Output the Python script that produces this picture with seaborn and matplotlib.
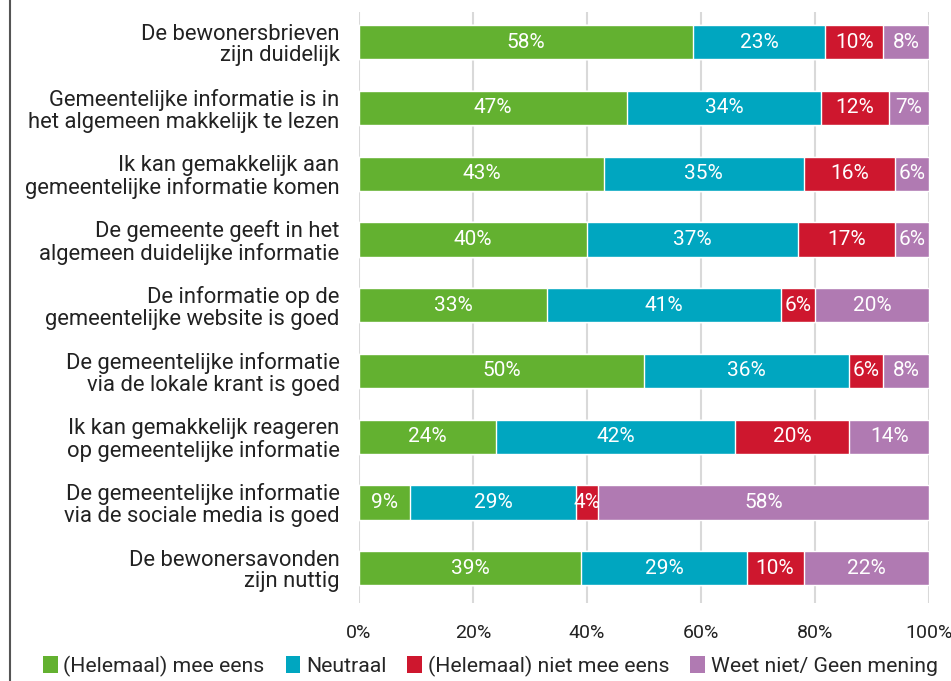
import numpy as np
import pandas as pd
import matplotlib
matplotlib.use("Agg")
import matplotlib.pyplot as plt
import seaborn as sns
from matplotlib.patches import Patch
from matplotlib.lines import Line2D

categories = [
    "De bewonersbrieven\nzijn duidelijk",
    "Gemeentelijke informatie is in\nhet algemeen makkelijk te lezen",
    "Ik kan gemakkelijk aan\ngemeentelijke informatie komen",
    "De gemeente geeft in het\nalgemeen duidelijke informatie",
    "De informatie op de\ngemeentelijke website is goed",
    "De gemeentelijke informatie\nvia de lokale krant is goed",
    "Ik kan gemakkelijk reageren\nop gemeentelijke informatie",
    "De gemeentelijke informatie\nvia de sociale media is goed",
    "De bewonersavonden\nzijn nuttig",
]
eens = [58, 47, 43, 40, 33, 50, 24, 9, 39]
neutraal = [23, 34, 35, 37, 41, 36, 42, 29, 29]
oneens = [10, 12, 16, 17, 6, 6, 20, 4, 10]
weet_niet = [8, 7, 6, 6, 20, 8, 14, 58, 22]
series_names = ["(Helemaal) mee eens", "Neutraal", "(Helemaal) niet mee eens", "Weet niet/ Geen mening"]
colors = ["#63b130", "#00a6c0", "#ce172e", "#b07ab2"]

sns.set_style("white")
plt.rcParams["font.family"] = ["Roboto", "DejaVu Sans"]

vals = np.array([eens, neutraal, oneens, weet_niet], dtype=float).T
pct = vals / vals.sum(axis=1, keepdims=True) * 100
cum = np.cumsum(pct, axis=1)

fig = plt.figure(figsize=(9.51, 6.81), dpi=100)
ax = fig.add_axes([0.3775, 0.1145, 0.5994, 0.868])

# draw from the full bar down so each segment overlays the next
for i in range(3, -1, -1):
    df = pd.DataFrame({"cat": categories, "x": cum[:, i]})
    sns.barplot(data=df, x="x", y="cat", orient="h", color=colors[i],
                width=0.52, saturation=1, ax=ax, zorder=3)

for r in range(len(categories)):
    left = 0
    for i in range(4):
        mid = left + pct[r, i] / 2
        ax.text(mid, r, f"{int(vals[r, i])}%", ha="center", va="center",
                color="white", fontsize=15, zorder=5)
        left += pct[r, i]

ax.set_xlim(0, 100)
ax.set_ylim(8.53, -0.46)
ax.set_xticks(range(0, 101, 20))
ax.set_xticklabels([f"{t}%" for t in range(0, 101, 20)], fontsize=14, color="#222222")
ax.tick_params(axis="x", length=0, pad=15)
ax.tick_params(axis="y", length=0, pad=14)
ax.set_yticks(range(len(categories)))
ax.set_yticklabels(categories, fontsize=15.8, color="#222222", linespacing=1.05)
for lbl in ax.get_yticklabels():
    lbl.set_horizontalalignment("right")
ax.set_xlabel("")
ax.set_ylabel("")
ax.xaxis.grid(True, color="#d9d9d9", linewidth=1.5, zorder=0)
ax.yaxis.grid(False)
sns.despine(ax=ax, left=True, bottom=True)

handles = [Patch(facecolor=c, edgecolor="none") for c in colors]
fig.legend(handles, series_names, loc="lower left", bbox_to_anchor=(0.025, -0.022),
           ncol=4, frameon=False, fontsize=15.3, handlelength=0.7, handleheight=0.85,
           handletextpad=0.25, columnspacing=1.0)

fig.add_artist(Line2D([0.0105, 0.0105], [0, 1], color="#555555", linewidth=1.5))

fig.savefig("out.png", dpi=100)
